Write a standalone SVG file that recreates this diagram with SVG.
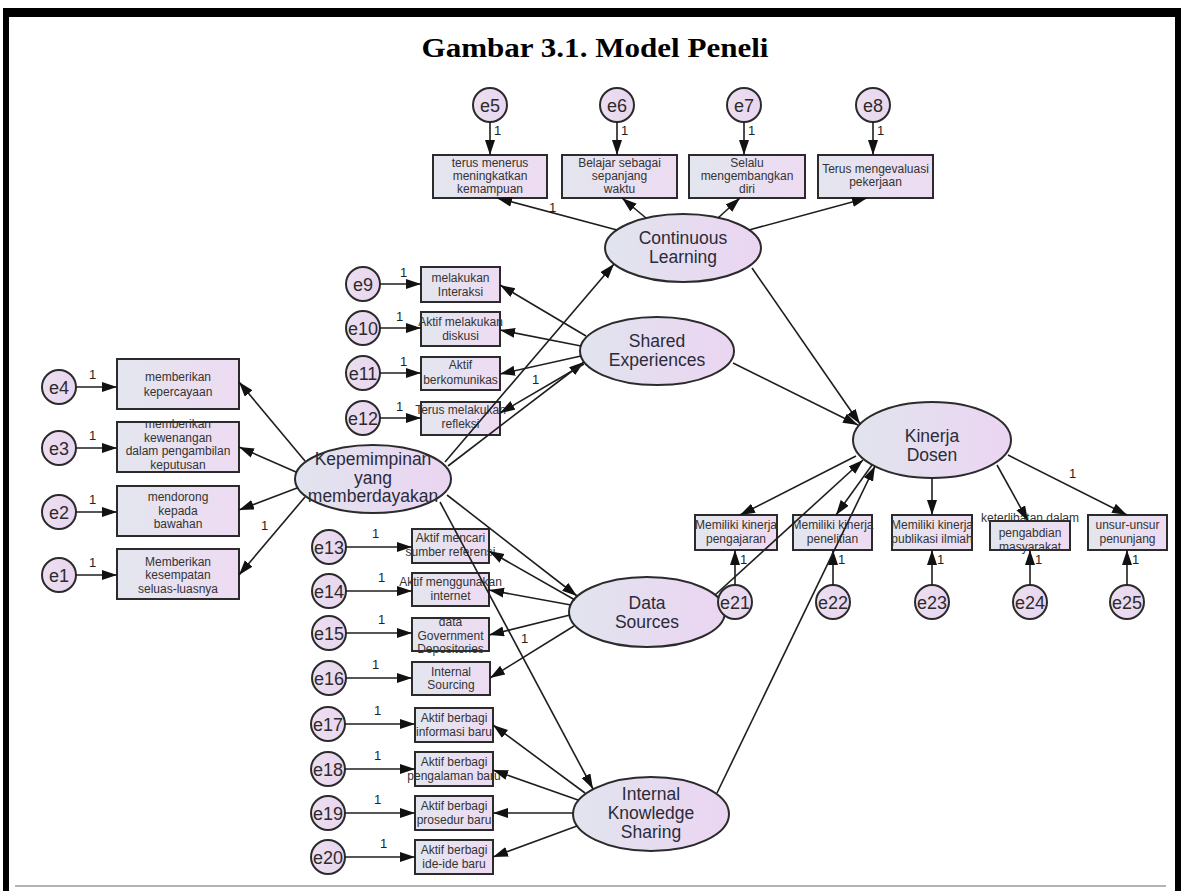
<svg xmlns="http://www.w3.org/2000/svg" width="1183" height="891" viewBox="0 0 1183 891">
<defs>
<linearGradient id="gBox" x1="0" y1="0" x2="1" y2="0"><stop offset="0" stop-color="#e3e6ee"/><stop offset="1" stop-color="#eedbf2"/></linearGradient>
<linearGradient id="gLat" x1="0" y1="0" x2="1" y2="0"><stop offset="0" stop-color="#e1e4ee"/><stop offset="1" stop-color="#ebd5f2"/></linearGradient>
<linearGradient id="gErr" x1="0" y1="0" x2="1" y2="0"><stop offset="0" stop-color="#ecdff0"/><stop offset="1" stop-color="#e8d5ef"/></linearGradient>
<marker id="ah" markerUnits="userSpaceOnUse" markerWidth="16" markerHeight="11" refX="15" refY="5" orient="auto"><path d="M0,0 L15,5 L0,10 z" fill="#111"/></marker>
</defs>
<style>
.box{fill:url(#gBox);stroke:#2b2b2b;stroke-width:2}
.lat{fill:url(#gLat);stroke:#2b2b2b;stroke-width:2}
.err{fill:url(#gErr);stroke:#2b2b2b;stroke-width:2}
text{font-family:"Liberation Sans",Arial,sans-serif;fill:#333;text-anchor:middle}
.t{font-size:12px}
.tl{font-size:17.5px;fill:#2b2b3a}
.te{font-size:18px;fill:#2b2b2b}
.one{font-size:13px;fill:#222;text-anchor:start}
.c{stroke:#1e1e1e;stroke-width:1.6;fill:none;marker-end:url(#ah)}
.title{font-family:"Liberation Serif","Times New Roman",serif;font-weight:bold;font-size:28px;fill:#000}
</style>
<rect width="1183" height="891" fill="#fff"/>
<rect x="3" y="8" width="1178" height="9" fill="#000"/>
<rect x="3" y="8" width="6" height="883" fill="#000"/>
<rect x="1175" y="8" width="6" height="883" fill="#000"/>
<line x1="15" y1="886" x2="1166" y2="886" stroke="#b4b4b4" stroke-width="2"/>
<text class="title" x="595" y="57" textLength="347" lengthAdjust="spacingAndGlyphs">Gambar 3.1. Model Peneli</text>

<g id="lat-CL"><ellipse class="lat" cx="683" cy="248" rx="78" ry="34"/><text class="tl"><tspan x="683" y="244">Continuous</tspan><tspan x="683" y="263">Learning</tspan></text></g>
<g id="lat-SE"><ellipse class="lat" cx="657" cy="351" rx="77" ry="34"/><text class="tl"><tspan x="657" y="347">Shared</tspan><tspan x="657" y="366">Experiences</tspan></text></g>
<g id="lat-KP"><ellipse class="lat" cx="373" cy="479" rx="78" ry="34"/><text class="tl" font-size="17"><tspan x="373" y="465">Kepemimpinan</tspan><tspan x="373" y="483.5">yang</tspan><tspan x="373" y="502">memberdayakan</tspan></text></g>
<g id="lat-KD"><ellipse class="lat" cx="932" cy="440" rx="79" ry="38"/><text class="tl"><tspan x="932" y="442">Kinerja</tspan><tspan x="932" y="461">Dosen</tspan></text></g>
<g id="lat-DS"><ellipse class="lat" cx="647" cy="612" rx="78" ry="35"/><text class="tl"><tspan x="647" y="609">Data</tspan><tspan x="647" y="628">Sources</tspan></text></g>
<g id="lat-IKS"><ellipse class="lat" cx="651" cy="814" rx="78" ry="37"/><text class="tl"><tspan x="651" y="800">Internal</tspan><tspan x="651" y="819">Knowledge</tspan><tspan x="651" y="838">Sharing</tspan></text></g>

<g id="b5"><rect class="box" x="433" y="155" width="114" height="43"/><text class="t"><tspan x="490" y="167">terus menerus</tspan><tspan x="490" y="180">meningkatkan</tspan><tspan x="490" y="193">kemampuan</tspan></text></g>
<g id="b6"><rect class="box" x="562" y="155" width="115" height="43"/><text class="t"><tspan x="619.5" y="167">Belajar sebagai</tspan><tspan x="619.5" y="180">sepanjang</tspan><tspan x="619.5" y="193">waktu</tspan></text></g>
<g id="b7"><rect class="box" x="689" y="155" width="116" height="43"/><text class="t"><tspan x="747" y="167">Selalu</tspan><tspan x="747" y="180">mengembangkan</tspan><tspan x="747" y="193">diri</tspan></text></g>
<g id="b8"><rect class="box" x="818" y="155" width="115" height="43"/><text class="t"><tspan x="875.5" y="173">Terus mengevaluasi</tspan><tspan x="875.5" y="186">pekerjaan</tspan></text></g>

<g id="b4"><rect class="box" x="117" y="359" width="122" height="50"/><text class="t" font-size="12.5"><tspan x="178" y="381">memberikan</tspan><tspan x="178" y="396">kepercayaan</tspan></text></g>
<g id="b3"><rect class="box" x="117" y="422" width="122" height="50"/><text class="t" font-size="12.5"><tspan x="178" y="428">memberikan</tspan><tspan x="178" y="441.5">kewenangan</tspan><tspan x="178" y="455">dalam pengambilan</tspan><tspan x="178" y="468.5">keputusan</tspan></text></g>
<g id="b2"><rect class="box" x="117" y="486" width="122" height="50"/><text class="t" font-size="12.5"><tspan x="178" y="501">mendorong</tspan><tspan x="178" y="514.5">kepada</tspan><tspan x="178" y="528">bawahan</tspan></text></g>
<g id="b1"><rect class="box" x="117" y="549" width="122" height="50"/><text class="t" font-size="12.5"><tspan x="178" y="565.5">Memberikan</tspan><tspan x="178" y="579">kesempatan</tspan><tspan x="178" y="592.5">seluas-luasnya</tspan></text></g>

<g id="b9"><rect class="box" x="421" y="267" width="79" height="35"/><text class="t"><tspan x="460.5" y="281.5">melakukan</tspan><tspan x="460.5" y="295.5">Interaksi</tspan></text></g>
<g id="b10"><rect class="box" x="421" y="312" width="79" height="34"/><text class="t"><tspan x="460.5" y="326">Aktif melakukan</tspan><tspan x="460.5" y="340">diskusi</tspan></text></g>
<g id="b11"><rect class="box" x="421" y="357" width="79" height="33"/><text class="t"><tspan x="460.5" y="369">Aktif</tspan><tspan x="460.5" y="383.5">berkomunikas</tspan></text></g>
<g id="b12"><rect class="box" x="421" y="402" width="79" height="33"/><text class="t"><tspan x="460.5" y="414">Terus melakukan</tspan><tspan x="460.5" y="428">refleksi</tspan></text></g>

<g id="b13"><rect class="box" x="412" y="529" width="77" height="34"/><text class="t"><tspan x="450.5" y="542">Aktif mencari</tspan><tspan x="450.5" y="556">sumber referensi</tspan></text></g>
<g id="b14"><rect class="box" x="412" y="573" width="77" height="33"/><text class="t"><tspan x="450.5" y="586">Aktif menggunakan</tspan><tspan x="450.5" y="600">internet</tspan></text></g>
<g id="b15"><rect class="box" x="412" y="618" width="77" height="33"/><text class="t"><tspan x="450.5" y="626">data</tspan><tspan x="450.5" y="639.5">Government</tspan><tspan x="450.5" y="653">Depositories</tspan></text></g>
<g id="b16"><rect class="box" x="412" y="662" width="78" height="33"/><text class="t"><tspan x="451" y="675.5">Internal</tspan><tspan x="451" y="689">Sourcing</tspan></text></g>

<g id="b17"><rect class="box" x="415" y="708" width="78" height="34"/><text class="t"><tspan x="454" y="722">Aktif berbagi</tspan><tspan x="454" y="736">informasi baru</tspan></text></g>
<g id="b18"><rect class="box" x="415" y="752" width="78" height="34"/><text class="t"><tspan x="454" y="766">Aktif berbagi</tspan><tspan x="454" y="780">pengalaman baru</tspan></text></g>
<g id="b19"><rect class="box" x="415" y="796" width="78" height="34"/><text class="t"><tspan x="454" y="810">Aktif berbagi</tspan><tspan x="454" y="824">prosedur baru</tspan></text></g>
<g id="b20"><rect class="box" x="415" y="840" width="78" height="34"/><text class="t"><tspan x="454" y="854">Aktif berbagi</tspan><tspan x="454" y="868">ide-ide baru</tspan></text></g>

<g id="b21"><rect class="box" x="695" y="515" width="82" height="35"/><text class="t"><tspan x="736" y="529">Memiliki kinerja</tspan><tspan x="736" y="543">pengajaran</tspan></text></g>
<g id="b22"><rect class="box" x="793" y="515" width="79" height="35"/><text class="t"><tspan x="832.5" y="529">Memiliki kinerja</tspan><tspan x="832.5" y="543">penelitian</tspan></text></g>
<g id="b23"><rect class="box" x="892" y="515" width="80" height="35"/><text class="t"><tspan x="932" y="529">Memiliki kinerja</tspan><tspan x="932" y="543">publikasi ilmiah</tspan></text></g>
<g id="b24"><rect class="box" x="990" y="521" width="80" height="29"/><text class="t"><tspan x="1030" y="522">keterlibatan dalam</tspan><tspan x="1030" y="536.5">pengabdian</tspan><tspan x="1030" y="551">masyarakat</tspan></text></g>
<g id="b25"><rect class="box" x="1088" y="515" width="79" height="35"/><text class="t"><tspan x="1127.5" y="529">unsur-unsur</tspan><tspan x="1127.5" y="543">penunjang</tspan></text></g>

<g id="e5"><circle class="err" cx="490" cy="105" r="17"/><text class="te" x="490" y="111.5">e5</text></g>
<g id="e6"><circle class="err" cx="617" cy="105" r="17"/><text class="te" x="617" y="111.5">e6</text></g>
<g id="e7"><circle class="err" cx="744" cy="105" r="17"/><text class="te" x="744" y="111.5">e7</text></g>
<g id="e8"><circle class="err" cx="873" cy="105" r="17"/><text class="te" x="873" y="111.5">e8</text></g>
<g id="e4"><circle class="err" cx="59" cy="387" r="17"/><text class="te" x="59" y="393.5">e4</text></g>
<g id="e3"><circle class="err" cx="59" cy="448" r="17"/><text class="te" x="59" y="454.5">e3</text></g>
<g id="e2"><circle class="err" cx="59" cy="512" r="17"/><text class="te" x="59" y="518.5">e2</text></g>
<g id="e1"><circle class="err" cx="59" cy="575" r="17"/><text class="te" x="59" y="581.5">e1</text></g>
<g id="e9"><circle class="err" cx="363" cy="284" r="17"/><text class="te" x="363" y="290.5">e9</text></g>
<g id="e10"><circle class="err" cx="363" cy="328" r="17"/><text class="te" x="363" y="334.5">e10</text></g>
<g id="e11"><circle class="err" cx="363" cy="373" r="17"/><text class="te" x="363" y="379.5">e11</text></g>
<g id="e12"><circle class="err" cx="363" cy="418" r="17"/><text class="te" x="363" y="424.5">e12</text></g>
<g id="e13"><circle class="err" cx="329" cy="547" r="17"/><text class="te" x="329" y="553.5">e13</text></g>
<g id="e14"><circle class="err" cx="329" cy="591" r="17"/><text class="te" x="329" y="597.5">e14</text></g>
<g id="e15"><circle class="err" cx="329" cy="633" r="17"/><text class="te" x="329" y="639.5">e15</text></g>
<g id="e16"><circle class="err" cx="329" cy="678" r="17"/><text class="te" x="329" y="684.5">e16</text></g>
<g id="e17"><circle class="err" cx="328" cy="724" r="17"/><text class="te" x="328" y="730.5">e17</text></g>
<g id="e18"><circle class="err" cx="328" cy="769" r="17"/><text class="te" x="328" y="775.5">e18</text></g>
<g id="e19"><circle class="err" cx="328" cy="813" r="17"/><text class="te" x="328" y="819.5">e19</text></g>
<g id="e20"><circle class="err" cx="328" cy="857" r="17"/><text class="te" x="328" y="863.5">e20</text></g>
<g id="e21"><circle class="err" cx="735" cy="602" r="17"/><text class="te" x="735" y="608.5">e21</text></g>
<g id="e22"><circle class="err" cx="833" cy="602" r="17"/><text class="te" x="833" y="608.5">e22</text></g>
<g id="e23"><circle class="err" cx="932" cy="602" r="17"/><text class="te" x="932" y="608.5">e23</text></g>
<g id="e24"><circle class="err" cx="1030" cy="602" r="17"/><text class="te" x="1030" y="608.5">e24</text></g>
<g id="e25"><circle class="err" cx="1127" cy="602" r="17"/><text class="te" x="1127" y="608.5">e25</text></g>

<g id="connectors">
<line class="c" x1="490" y1="122" x2="490" y2="155"/>
<line class="c" x1="617" y1="122" x2="617" y2="155"/>
<line class="c" x1="744" y1="122" x2="744" y2="155"/>
<line class="c" x1="873" y1="122" x2="873" y2="155"/>
<line class="c" x1="76" y1="387" x2="117" y2="387"/>
<line class="c" x1="76" y1="448" x2="117" y2="448"/>
<line class="c" x1="76" y1="512" x2="117" y2="512"/>
<line class="c" x1="76" y1="575" x2="117" y2="575"/>
<line class="c" x1="380" y1="284" x2="421" y2="284"/>
<line class="c" x1="380" y1="328" x2="421" y2="328"/>
<line class="c" x1="380" y1="373" x2="421" y2="373"/>
<line class="c" x1="380" y1="418" x2="421" y2="418"/>
<line class="c" x1="346" y1="547" x2="412" y2="547"/>
<line class="c" x1="346" y1="591" x2="412" y2="591"/>
<line class="c" x1="346" y1="633" x2="412" y2="633"/>
<line class="c" x1="346" y1="678" x2="412" y2="678"/>
<line class="c" x1="345" y1="724" x2="415" y2="724"/>
<line class="c" x1="345" y1="769" x2="415" y2="769"/>
<line class="c" x1="345" y1="813" x2="415" y2="813"/>
<line class="c" x1="345" y1="857" x2="415" y2="857"/>
<line class="c" x1="735" y1="585" x2="735" y2="550"/>
<line class="c" x1="833" y1="585" x2="833" y2="550"/>
<line class="c" x1="932" y1="585" x2="932" y2="550"/>
<line class="c" x1="1030" y1="585" x2="1030" y2="550"/>
<line class="c" x1="1127" y1="585" x2="1127" y2="550"/>
<line class="c" x1="617" y1="230" x2="497" y2="198"/>
<line class="c" x1="646" y1="218" x2="622" y2="198"/>
<line class="c" x1="718" y1="218" x2="740" y2="198"/>
<line class="c" x1="749" y1="230" x2="867" y2="198"/>
<line class="c" x1="305" y1="461" x2="239" y2="382"/>
<line class="c" x1="296" y1="472" x2="239" y2="447"/>
<line class="c" x1="297" y1="488" x2="239" y2="510"/>
<line class="c" x1="305" y1="497" x2="239" y2="575"/>
<line class="c" x1="445" y1="462" x2="614" y2="264"/>
<line class="c" x1="448" y1="466" x2="584" y2="362"/>
<line class="c" x1="447" y1="495" x2="577" y2="596"/>
<line class="c" x1="440" y1="502" x2="593" y2="789"/>
<line class="c" x1="586" y1="336" x2="500" y2="285"/>
<line class="c" x1="581" y1="346" x2="500" y2="330"/>
<line class="c" x1="581" y1="356" x2="500" y2="374"/>
<line class="c" x1="584" y1="364" x2="500" y2="413"/>
<line class="c" x1="575" y1="600" x2="489" y2="551"/>
<line class="c" x1="571" y1="605" x2="489" y2="590"/>
<line class="c" x1="570" y1="615" x2="489" y2="635"/>
<line class="c" x1="574" y1="626" x2="490" y2="678"/>
<line class="c" x1="585" y1="793" x2="493" y2="725"/>
<line class="c" x1="578" y1="800" x2="493" y2="770"/>
<line class="c" x1="573" y1="813" x2="493" y2="813"/>
<line class="c" x1="577" y1="826" x2="493" y2="857"/>
<line class="c" x1="752" y1="268" x2="860" y2="424"/>
<line class="c" x1="733" y1="363" x2="858" y2="425"/>
<line class="c" x1="715" y1="595" x2="863" y2="460"/>
<line class="c" x1="717" y1="793" x2="875" y2="466"/>
<line class="c" x1="856" y1="456" x2="740" y2="515"/>
<line class="c" x1="872" y1="465" x2="836" y2="515"/>
<line class="c" x1="932" y1="478" x2="932" y2="515"/>
<line class="c" x1="997" y1="465" x2="1028" y2="521"/>
<line class="c" x1="1008" y1="455" x2="1127" y2="515"/>
</g>

<g id="weights">
<text class="one" x="494" y="135">1</text>
<text class="one" x="621" y="135">1</text>
<text class="one" x="748" y="135">1</text>
<text class="one" x="877" y="135">1</text>
<text class="one" x="89" y="379">1</text>
<text class="one" x="89" y="440">1</text>
<text class="one" x="89" y="504">1</text>
<text class="one" x="89" y="567">1</text>
<text class="one" x="400" y="277">1</text>
<text class="one" x="396" y="321">1</text>
<text class="one" x="400" y="366">1</text>
<text class="one" x="396" y="411">1</text>
<text class="one" x="372" y="538">1</text>
<text class="one" x="378" y="582">1</text>
<text class="one" x="378" y="624">1</text>
<text class="one" x="372" y="669">1</text>
<text class="one" x="374" y="715">1</text>
<text class="one" x="374" y="760">1</text>
<text class="one" x="374" y="804">1</text>
<text class="one" x="380" y="848">1</text>
<text class="one" x="740" y="564">1</text>
<text class="one" x="838" y="564">1</text>
<text class="one" x="937" y="564">1</text>
<text class="one" x="1035" y="564">1</text>
<text class="one" x="1132" y="564">1</text>
<text class="one" x="549" y="212">1</text>
<text class="one" x="261" y="530">1</text>
<text class="one" x="532" y="384">1</text>
<text class="one" x="521" y="643">1</text>
<text class="one" x="1069" y="478">1</text>
</g>
</svg>
